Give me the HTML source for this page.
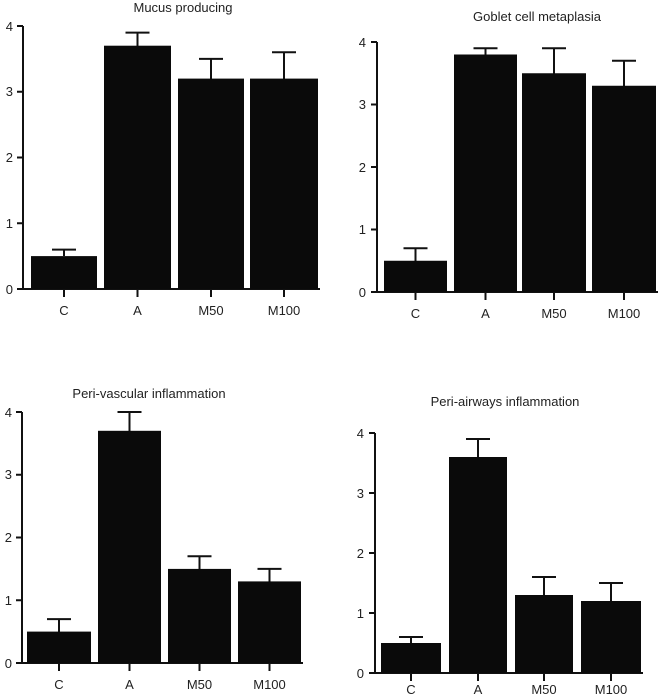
<!DOCTYPE html><html><head><style>body{margin:0;background:#fff}svg{display:block}text{font-family:"Liberation Sans",sans-serif;fill:#222}</style></head><body>
<svg width="665" height="696" viewBox="0 0 665 696" xmlns="http://www.w3.org/2000/svg">
<g stroke="#111" stroke-width="2" fill="none">
<path d="M23,26V289H320M17,26H23M17,91.75H23M17,157.5H23M17,223.25H23M17,289H23M64,289V297M137.5,289V297M211,289V297M284,289V297"/>
<path d="M64,256V249.6M52,249.6H76M137.5,46V32.6M125.5,32.6H149.5M211,79V58.9M199,58.9H223M284,79V52.3M272,52.3H296"/>
<path d="M377,42V292H658M371,42H377M371,104.5H377M371,167H377M371,229.5H377M371,292H377M415.5,292V300M485.5,292V300M554,292V300M624,292V300"/>
<path d="M415.5,261V248.25M403.5,248.25H427.5M485.5,55V48.25M473.5,48.25H497.5M554,74V48.25M542,48.25H566M624,86V60.75M612,60.75H636"/>
<path d="M22,412V663H303M16,412H22M16,474.75H22M16,537.5H22M16,600.25H22M16,663H22M59,663V671M129.5,663V671M199.5,663V671M269.5,663V671"/>
<path d="M59,632V619.1M47,619.1H71M129.5,431V412M117.5,412H141.5M199.5,569V556.3M187.5,556.3H211.5M269.5,582V568.9M257.5,568.9H281.5"/>
<path d="M375,433V673H643M369,433H375M369,493H375M369,553H375M369,613H375M369,673H375M411,673V681M478,673V681M544,673V681M611,673V681"/>
<path d="M411,643V637M399,637H423M478,457V439M466,439H490M544,595V577M532,577H556M611,601V583M599,583H623"/>
</g>
<g fill="#0a0a0a">
<rect x="31" y="256.1" width="66" height="32.9"/><rect x="104" y="45.7" width="67" height="243.3"/><rect x="178" y="78.6" width="66" height="210.4"/><rect x="250" y="78.6" width="68" height="210.4"/>
<rect x="384" y="260.75" width="63" height="31.25"/><rect x="454" y="54.5" width="63" height="237.5"/><rect x="522" y="73.25" width="64" height="218.75"/><rect x="592" y="85.75" width="64" height="206.25"/>
<rect x="27" y="631.6" width="64" height="31.4"/><rect x="98" y="430.8" width="63" height="232.2"/><rect x="168" y="568.9" width="63" height="94.1"/><rect x="238" y="581.4" width="63" height="81.6"/>
<rect x="381" y="643" width="60" height="30"/><rect x="449" y="457" width="58" height="216"/><rect x="515" y="595" width="58" height="78"/><rect x="581" y="601" width="60" height="72"/>
</g>
<g font-size="13" text-anchor="middle">
<text x="183" y="12">Mucus producing</text>
<text x="537" y="21">Goblet cell metaplasia</text>
<text x="149" y="398">Peri-vascular inflammation</text>
<text x="505" y="406">Peri-airways inflammation</text>
<text x="64" y="315">C</text><text x="137.5" y="315">A</text><text x="211" y="315">M50</text><text x="284" y="315">M100</text>
<text x="415.5" y="318">C</text><text x="485.5" y="318">A</text><text x="554" y="318">M50</text><text x="624" y="318">M100</text>
<text x="59" y="689">C</text><text x="129.5" y="689">A</text><text x="199.5" y="689">M50</text><text x="269.5" y="689">M100</text>
<text x="411" y="694">C</text><text x="478" y="694">A</text><text x="544" y="694">M50</text><text x="611" y="694">M100</text>
</g>
<g font-size="13" text-anchor="end">
<text x="13" y="31">4</text><text x="13" y="96">3</text><text x="13" y="162">2</text><text x="13" y="228">1</text><text x="13" y="294">0</text>
<text x="366" y="47">4</text><text x="366" y="109">3</text><text x="366" y="172">2</text><text x="366" y="234">1</text><text x="366" y="297">0</text>
<text x="12" y="417">4</text><text x="12" y="479">3</text><text x="12" y="542">2</text><text x="12" y="605">1</text><text x="12" y="668">0</text>
<text x="364" y="438">4</text><text x="364" y="498">3</text><text x="364" y="558">2</text><text x="364" y="618">1</text><text x="364" y="678">0</text>
</g>
</svg></body></html>
